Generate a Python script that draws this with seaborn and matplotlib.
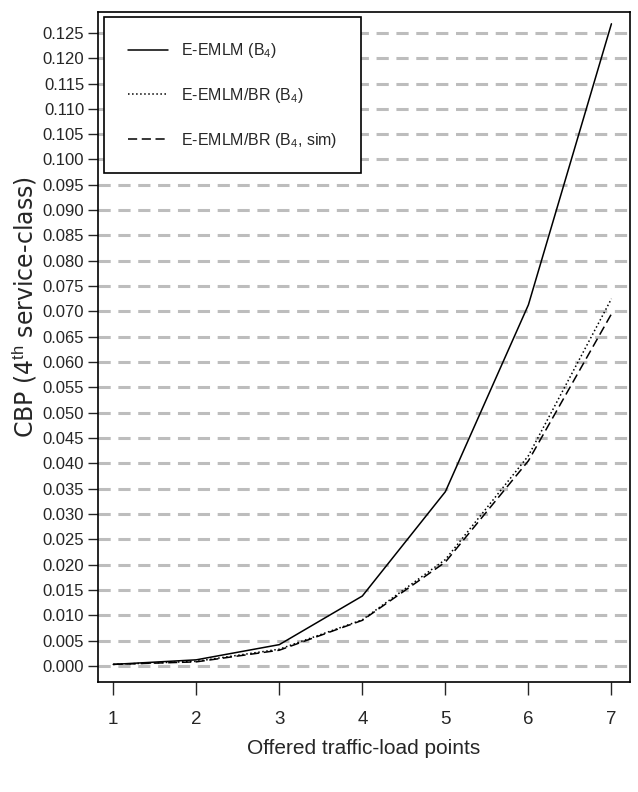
import matplotlib
matplotlib.use("Agg")
import matplotlib.pyplot as plt
import seaborn as sns
import numpy as np
import pandas as pd

load_points = [1, 2, 3, 4, 5, 6, 7]
eemlm = [0.0003, 0.0012, 0.0042, 0.0138, 0.0344, 0.0713, 0.1268]
eemlm_br = [0.0003, 0.0009, 0.0033, 0.0091, 0.0210, 0.0415, 0.0725]
eemlm_br_sim = [0.0003, 0.0008, 0.0031, 0.0090, 0.0205, 0.0405, 0.0695]
series_labels = ["E-EMLM (B$_4$)", "E-EMLM/BR (B$_4$)", "E-EMLM/BR (B$_4$, sim)"]
yticks = [round(0.005 * i, 3) for i in range(26)]

sns.set_style("white")
plt.rcParams['font.family'] = ['Liberation Sans', 'DejaVu Sans']
plt.rcParams['mathtext.fontset'] = 'custom'
plt.rcParams['mathtext.rm'] = 'Liberation Sans'
plt.rcParams['mathtext.it'] = 'Liberation Sans'

fig = plt.figure(figsize=(6.38, 7.92), dpi=100)
ax = fig.add_axes([0.154, 0.139, 0.833, 0.846])

for y in yticks:
    ax.axhline(y, color='#bdbdbd', lw=2.2, ls=(0, (4, 2.5)), zorder=0)

styles = ['-', ':', (0, (6, 3))]
for vals, lab, st in zip([eemlm, eemlm_br, eemlm_br_sim], series_labels, styles):
    df = pd.DataFrame({'x': load_points, 'y': vals})
    sns.lineplot(data=df, x='x', y='y', ax=ax, color='black', lw=1.1,
                 linestyle=st, label=lab)

ax.set_xlim(0.82, 7.22)
ax.set_ylim(-0.00316, 0.12915)
ax.set_yticks(yticks)
ax.set_yticklabels([f"{v:.3f}" for v in yticks], fontsize=12)
ax.set_xticks(load_points)
ax.set_xticklabels([str(v) for v in load_points], fontsize=13.5)
ax.tick_params(axis='y', direction='out', length=7, width=1, left=True, pad=3)
ax.tick_params(axis='x', direction='out', length=9, width=1, bottom=True, pad=12)
for s in ax.spines.values():
    s.set_color('black'); s.set_linewidth(1.2)

ax.set_xlabel("Offered traffic-load points", fontsize=15, labelpad=8)
ax.set_ylabel("CBP (4$^{\\mathrm{th}}$ service-class)", fontsize=17,
              family=['DejaVu Sans'])
ax.yaxis.set_label_coords(-0.112, 0.56)

leg = ax.legend(loc='upper left', fontsize=11.5, frameon=True, fancybox=False,
                edgecolor='black', borderpad=1.5, labelspacing=1.6,
                handlelength=2.5, handletextpad=0.8, borderaxespad=0.35)
leg.get_frame().set_linewidth(1.2)
leg.get_frame().set_alpha(1)

fig.savefig("out.png", dpi=100)
